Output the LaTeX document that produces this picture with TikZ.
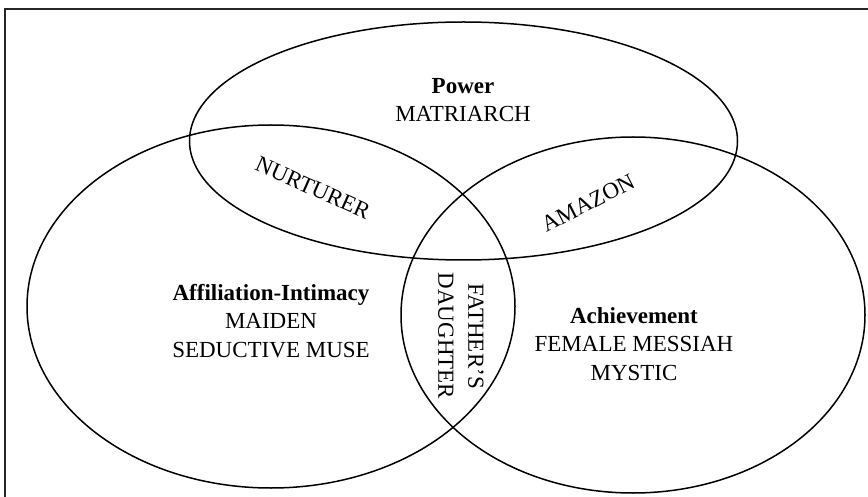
\documentclass[tikz,border=0pt]{standalone}
\usepackage{fontspec}
\setmainfont{Liberation Serif}
\usetikzlibrary{shapes.geometric}
\tikzset{
  ring/.style={draw=black, ellipse, line width=1.5pt, inner sep=0pt},
  lbl/.style={font=\fontsize{23}{28.5}\selectfont, align=center, inner sep=0pt},
  frame/.style={draw=black!85, line width=2.5pt},
}

\begin{document}
\begin{tikzpicture}[x=1pt, y=-1pt]
  \useasboundingbox (0,0) rectangle (868,497);
  \clip (0,0) rectangle (868,497);
  \draw[frame] (5,9) rectangle (880,510);
  % the three circles
  \node[ring, minimum width=548pt, minimum height=238pt] (power) at (463.5,141) {};
  \node[ring, minimum width=488pt, minimum height=363pt] (affil) at (271,306.5) {};
  \node[ring, minimum width=464pt, minimum height=356pt] (achiev) at (633,315) {};
  % labels
  \node[lbl] (powtxt) at (463,100) {\textbf{Power}\\MATRIARCH};
  \node[lbl] (afftxt) at (271,321) {\textbf{Affiliation-Intimacy}\\MAIDEN\\SEDUCTIVE MUSE};
  \node[lbl] (achtxt) at (634,344) {\textbf{Achievement}\\FEMALE MESSIAH\\MYSTIC};
  \node[lbl, rotate=-24] (nurt) at (313,188) {NURTURER};
  \node[lbl, rotate=27] (amaz) at (588,203) {AMAZON};
  \node[lbl, rotate=-90, font=\fontsize{23}{30}\selectfont] (fath) at (461,336) {FATHER’S\\DAUGHTER};
\end{tikzpicture}
\end{document}
